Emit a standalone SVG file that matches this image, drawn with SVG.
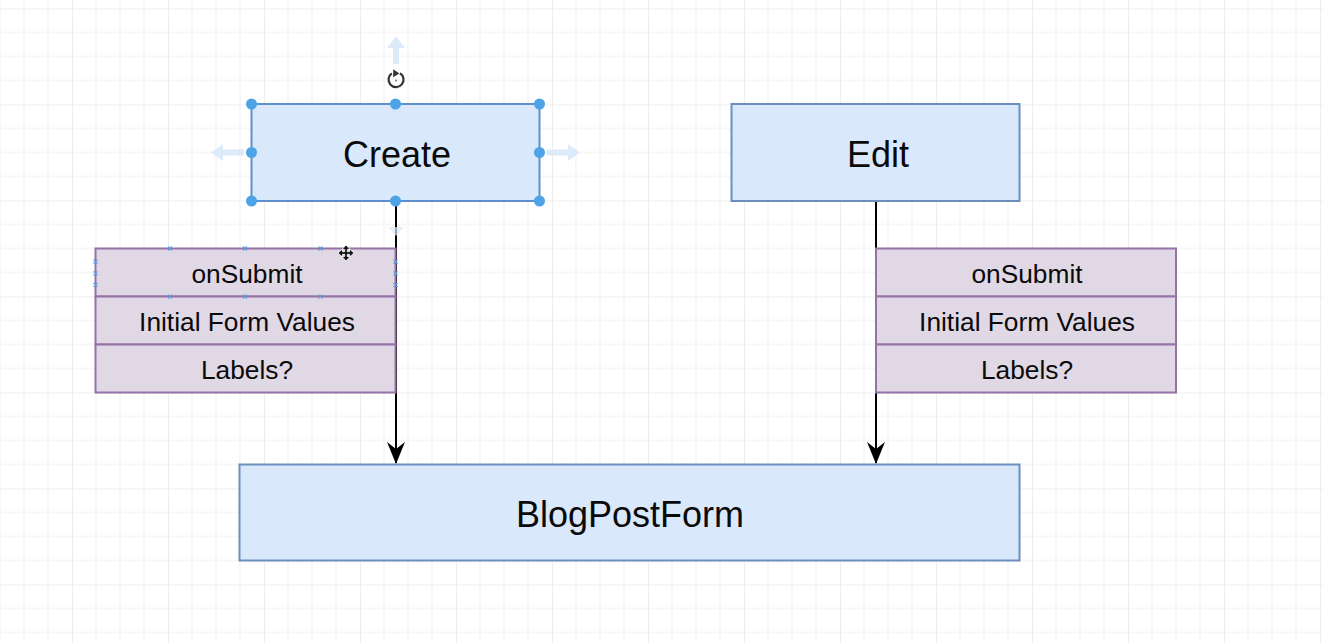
<svg xmlns="http://www.w3.org/2000/svg" width="1323" height="643" viewBox="0 0 1323 643">
  <style>
    .blue { fill: #dae8fc; stroke: #6c8ebf; stroke-width: 2; }
    .purple { fill: #e1d8e6; stroke: #9673a6; stroke-width: 2; }
    .big { font-family: "Liberation Sans", Arial, sans-serif; font-size: 36px; fill: #0a0a0a; text-anchor: middle; }
    .small { font-family: "Liberation Sans", Arial, sans-serif; font-size: 26.3px; fill: #0a0a0a; text-anchor: middle; }
    .edge { stroke: #000; stroke-width: 2; fill: none; }
    .handle { fill: #4da3e6; }
    .hint { fill: #dceafa; }
    .pt { stroke: #5aa0e0; stroke-width: 1.2; fill: none; }
  </style>
  <defs>
    <pattern id="grid" x="72" y="8.5" width="96" height="96" patternUnits="userSpaceOnUse">
      <path d="M24 0V96M48 0V96M72 0V96M0 24H96M0 48H96M0 72H96" stroke="#f5f5f5" stroke-width="1.5" fill="none"/>
      <path d="M0 0V96M0 0H96" stroke="#ededed" stroke-width="2" fill="none"/>
    </pattern>
    <marker id="arrow" markerWidth="22" markerHeight="18" refX="21" refY="9" orient="auto" markerUnits="userSpaceOnUse" viewBox="0 0 22 18">
      <path d="M22 9 L0 0 L7 9 L0 18 Z" fill="#000"/>
    </marker>
  </defs>

  <rect width="1323" height="643" fill="#ffffff"/>
  <rect width="1323" height="643" fill="url(#grid)"/>

  <g id="connectors">
    <path class="edge" d="M396 201 V463" marker-end="url(#arrow)"/>
    <path class="edge" d="M876 201 V463" marker-end="url(#arrow)"/>
  </g>

  <g id="create">
    <rect class="blue" x="251.5" y="104" width="288" height="97" style="stroke:#5f8fcc"/>
    <text class="big" x="397" y="167">Create</text>
  </g>

  <g id="edit">
    <rect class="blue" x="731.5" y="104" width="288" height="97"/>
    <text class="big" x="878" y="167">Edit</text>
  </g>

  <g id="create-props">
    <rect class="purple" x="95.5" y="248.5" width="300" height="48"/>
    <text class="small" x="247" y="282.5">onSubmit</text>
    <rect class="purple" x="95.5" y="296.5" width="300" height="48"/>
    <text class="small" x="247" y="330.5">Initial Form Values</text>
    <rect class="purple" x="95.5" y="344.5" width="300" height="48"/>
    <text class="small" x="247" y="379">Labels?</text>
  </g>

  <g id="edit-props">
    <rect class="purple" x="876" y="248.5" width="300" height="48"/>
    <text class="small" x="1027" y="282.5">onSubmit</text>
    <rect class="purple" x="876" y="296.5" width="300" height="48"/>
    <text class="small" x="1027" y="330.5">Initial Form Values</text>
    <rect class="purple" x="876" y="344.5" width="300" height="48"/>
    <text class="small" x="1027" y="379">Labels?</text>
  </g>

  <g id="blogpostform">
    <rect class="blue" x="239.5" y="464.5" width="780" height="96"/>
    <text class="big" x="630" y="527">BlogPostForm</text>
  </g>

  <!-- editor selection overlay -->
  <g id="selection">
    <path class="hint" d="M396 36 L405 48 H399 V64 H393 V48 H387 Z"/>
    <path class="hint" d="M211 152.5 L223 144 V149.5 H244 V155.5 H223 V161 Z"/>
    <path class="hint" d="M580 152.5 L568 144 V149.5 H547 V155.5 H568 V161 Z"/>
    <path class="hint" d="M396 236 L388 227 H404 Z" opacity="0.7"/>
    <g fill="none" stroke="#333" stroke-width="2.2">
      <path d="M400 73.2 A7.5 7.5 0 1 1 391.8 73.4"/>
    </g>
    <path d="M393.3 69.3 L399.3 73.4 L393.1 77.3 Z" fill="#333"/>
    <circle cx="396" cy="80.5" r="1" fill="#777"/>
    <circle class="handle" cx="251.5" cy="104" r="5.5"/>
    <circle class="handle" cx="395.5" cy="104" r="5.5"/>
    <circle class="handle" cx="539.5" cy="104" r="5.5"/>
    <circle class="handle" cx="251.5" cy="152.5" r="5.5"/>
    <circle class="handle" cx="539.5" cy="152.5" r="5.5"/>
    <circle class="handle" cx="251.5" cy="201" r="5.5"/>
    <circle class="handle" cx="395.5" cy="201" r="5.5"/>
    <circle class="handle" cx="539.5" cy="201" r="5.5"/>
    <path class="pt" d="M168 246.5l4 4m0-4l-4 4M243 246.5l4 4m0-4l-4 4M318.5 246.5l4 4m0-4l-4 4M168 294.7l4 4m0-4l-4 4M243 294.7l4 4m0-4l-4 4M318.5 294.7l4 4m0-4l-4 4"/>
    <path class="pt" d="M93.5 259.7l4 4m0-4l-4 4M93.5 271.3l4 4m0-4l-4 4M93.5 283l4 4m0-4l-4 4M393.5 259.7l4 4m0-4l-4 4M393.5 271.3l4 4m0-4l-4 4M393.5 283l4 4m0-4l-4 4"/>
    <path d="M346 245 L350 249.5 H347.3 V251.7 H349.5 V249 L354 253 L349.5 257 V254.3 H347.3 V256.5 H350 L346 261 L342 256.5 H344.7 V254.3 H342.5 V257 L338 253 L342.5 249 V251.7 H344.7 V249.5 H342 Z" fill="#111" stroke="#fff" stroke-width="0.8"/>
  </g>
</svg>
